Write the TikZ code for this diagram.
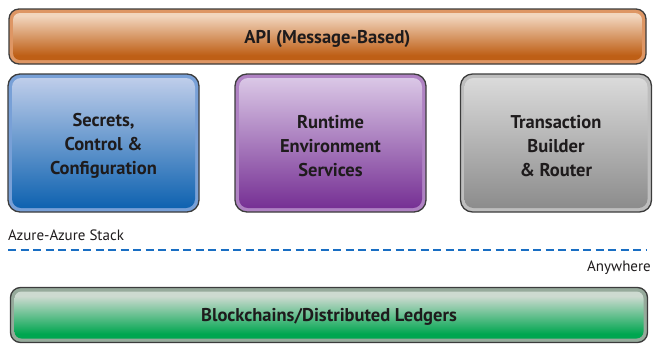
\documentclass[tikz,border=0pt]{standalone}
\usepackage{fontspec}
\setmainfont{PT Sans}
\usetikzlibrary{positioning}

\definecolor{ink}{RGB}{30,27,28}
\definecolor{frame}{RGB}{60,60,60}
\definecolor{dashblue}{RGB}{25,110,195}

% orange
\definecolor{orTop}{RGB}{242,214,190}
\definecolor{orBot}{RGB}{190,95,22}
\definecolor{orRim}{RGB}{222,150,100}
% blue
\definecolor{blTop}{RGB}{208,216,240}
\definecolor{blBot}{RGB}{14,98,176}
\definecolor{blRim}{RGB}{120,160,215}
% purple
\definecolor{puTop}{RGB}{228,214,238}
\definecolor{puBot}{RGB}{118,48,148}
\definecolor{puRim}{RGB}{175,130,195}
% gray
\definecolor{grTop}{RGB}{226,226,226}
\definecolor{grBot}{RGB}{140,140,140}
\definecolor{grRim}{RGB}{190,190,190}
% green
\definecolor{gnTop}{RGB}{205,218,208}
\definecolor{gnBot}{RGB}{0,166,80}
\definecolor{gnRim}{RGB}{150,170,155}

\pgfdeclareverticalshading{orangeSh}{100bp}{color(0bp)=(orBot); color(30bp)=(orBot); color(72bp)=(orTop); color(88bp)=(orTop); color(100bp)=(orBot)}
\pgfdeclareverticalshading{blueSh}{100bp}{color(0bp)=(blBot); color(25bp)=(blBot); color(80bp)=(blTop); color(100bp)=(blTop)}
\pgfdeclareverticalshading{purpleSh}{100bp}{color(0bp)=(puBot); color(25bp)=(puBot); color(80bp)=(puTop); color(100bp)=(puTop)}
\pgfdeclareverticalshading{graySh}{100bp}{color(0bp)=(grBot); color(25bp)=(grBot); color(80bp)=(grTop); color(100bp)=(grTop)}
\pgfdeclareverticalshading{greenSh}{100bp}{color(0bp)=(gnBot); color(30bp)=(gnBot); color(70bp)=(gnTop); color(100bp)=(gnTop)}

\tikzset{
  outer/.style={draw=frame, line width=1.3pt, rounded corners=10pt, inner sep=0pt},
  inner/.style={rounded corners=7pt, inner sep=0pt},
  barouter/.style={outer, minimum width=637pt, minimum height=55pt},
  barinner/.style={inner, minimum width=629pt, minimum height=47pt},
  boxouter/.style={outer, rounded corners=12pt, minimum width=191pt, minimum height=138pt},
  boxinner/.style={inner, rounded corners=9pt, minimum width=183pt, minimum height=130pt},
  title/.style={inner sep=0pt, text=ink, align=center,
    font=\bfseries\fontsize{18.5}{24}\selectfont},
  label/.style={inner sep=0pt, text=ink, font=\fontsize{15}{17}\selectfont}
}

\begin{document}
\begin{tikzpicture}[x=1pt,y=-1pt]
\useasboundingbox (0,0) rectangle (653,354);

% API bar
\node[barouter, fill=orRim] (apiF) at (327.5,36.5) {};
\node[barinner, shading=orangeSh] (api) at (apiF.center) {};
\node[title] (apiT) at ([yshift=-2pt]api.center) {API (Message-Based)};

% three service boxes
\node[boxouter, fill=blRim] (secF) at (103.5,143) {};
\node[boxinner, shading=blueSh] (sec) at (secF.center) {};
\node[title] (secT) at ([yshift=-3pt]sec.center) {Secrets,\\Control \&\\Configuration};

\node[boxouter, fill=puRim] (runF) at (330.5,143) {};
\node[boxinner, shading=purpleSh] (run) at (runF.center) {};
\node[title] (runT) at ([yshift=-3pt]run.center) {Runtime\\Environment\\Services};

\node[boxouter, fill=grRim] (txF) at (556,143) {};
\node[boxinner, shading=graySh] (tx) at (txF.center) {};
\node[title] (txT) at ([yshift=-3pt]tx.center) {Transaction\\Builder\\\& Router};

% boundary between Azure and anywhere
\node[label, anchor=west] (azure) at (8,235) {Azure-Azure Stack};
\coordinate (dl) at (8,250);
\coordinate (dr) at (646,250);
\draw[dashblue, line width=2pt, dash pattern=on 8pt off 4.5pt] (dl) -- (dr);
\node[label, anchor=east] (anyw) at (651,268) {Anywhere};

% ledger bar
\node[barouter, fill=gnRim] (ledF) at (329,315) {};
\node[barinner, shading=greenSh] (led) at (ledF.center) {};
\node[title] (ledT) at ([yshift=-2pt]led.center) {Blockchains/Distributed Ledgers};
\end{tikzpicture}
\end{document}
